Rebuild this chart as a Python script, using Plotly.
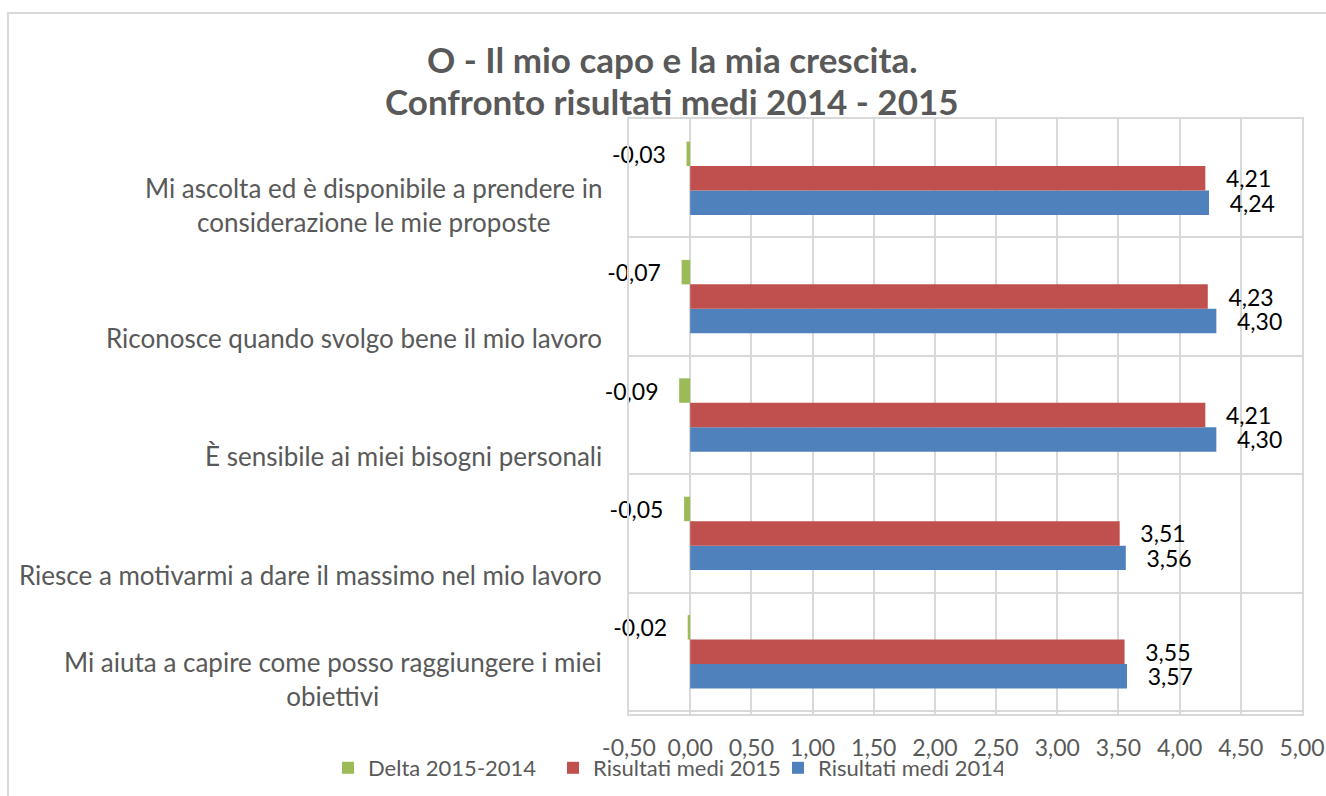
import plotly.graph_objects as go

# Survey items, listed top to bottom as they appear on the chart
categories = [
    "Mi ascolta ed è disponibile a prendere in<br>considerazione le mie proposte",
    "Riconosce quando svolgo bene il mio lavoro",
    "È sensibile ai miei bisogni personali",
    "Riesce a motivarmi a dare il massimo nel mio lavoro",
    "Mi aiuta a capire come posso raggiungere i miei<br>obiettivi",
]
risultati_2014 = [4.24, 4.30, 4.30, 3.56, 3.57]
risultati_2015 = [4.21, 4.23, 4.21, 3.51, 3.55]
delta_2015_2014 = [-0.03, -0.07, -0.09, -0.05, -0.02]

x_ticks = [-0.5, 0, 0.5, 1, 1.5, 2, 2.5, 3, 3.5, 4, 4.5, 5]
x_tick_labels = ["-0,50", "0,00", "0,50", "1,00", "1,50", "2,00",
                 "2,50", "3,00", "3,50", "4,00", "4,50", "5,00"]

W, H = 1326, 796
ML, MR, MT, MB = 629, 24, 119, 82
PW, PH = W - ML - MR, H - MT - MB


def px_x(x):
    return (x - ML) / PW


def px_y(y):
    return (H - MB - y) / PH


FONT = "Lato, Calibri, Open Sans, sans-serif"
GREY = "#595959"
GRID = "#d9d9d9"
NB = "\u00a0"

fig = go.Figure()

series = [
    ("Risultati medi 2014", risultati_2014, "#4F81BD", NB * 3 + "%{x:.2f}"),
    ("Risultati medi 2015", risultati_2015, "#C0504D", NB * 3 + "%{x:.2f}"),
    ("Delta 2015-2014", delta_2015_2014, "#9BBB59", "%{x:.2f}" + NB * 3),
]
for name, vals, color, tmpl in series:
    fig.add_trace(go.Bar(
        name=name,
        y=categories,
        x=vals,
        orientation="h",
        marker=dict(color=color, line=dict(width=0)),
        texttemplate=tmpl,
        textposition="outside",
        textfont=dict(family=FONT, size=23, color="#000000"),
        constraintext="none",
        cliponaxis=False,
        hoverinfo="x+name",
    ))

# Category labels sit near the lower edge of each category band;
# wrapped labels are centred line against line
annotations = []
n = len(categories)
for i, cat in enumerate(categories):
    idx = n - 1 - i
    wrapped = "<br>" in cat
    annotations.append(dict(
        text=cat,
        xref="paper", x=0, xanchor="right", xshift=-25,
        yref="y", y=idx - 0.5, yanchor="middle",
        yshift=32 if wrapped else 18,
        showarrow=False, align="center",
        font=dict(family=FONT, size=26, color=GREY),
    ))

# Two-line chart title
for txt, ypx in [("O - Il mio capo e la mia crescita.", 59),
                 ("Confronto risultati medi 2014 - 2015", 101)]:
    annotations.append(dict(
        text="<b>" + txt + "</b>",
        xref="paper", x=px_x(672), xanchor="center",
        yref="paper", y=px_y(ypx), yanchor="middle",
        showarrow=False,
        font=dict(family=FONT, size=35, color=GREY),
    ))

fig.update_layout(
    width=W, height=H,
    margin=dict(l=ML, r=MR, t=MT, b=MB, pad=0, autoexpand=False),
    paper_bgcolor="white", plot_bgcolor="white",
    separators=",.",
    barmode="group", bargap=0.38, bargroupgap=0,
    showlegend=True,
    legend=dict(
        orientation="h", traceorder="reversed",
        x=px_x(328), xanchor="left",
        y=px_y(768), yanchor="middle",
        font=dict(family=FONT, size=22, color=GREY),
        itemwidth=30, entrywidth=180, entrywidthmode="pixels",
        bgcolor="rgba(0,0,0,0)",
    ),
    xaxis=dict(
        range=[-0.5, 5], tickvals=x_ticks, ticktext=x_tick_labels,
        showgrid=True, gridcolor=GRID, gridwidth=1.5,
        zeroline=False, automargin=False,
        showline=True, linecolor=GRID, linewidth=1.5, mirror=True,
        ticks="", ticklabelstandoff=13,
        tickfont=dict(family=FONT, size=23, color=GREY),
        fixedrange=True,
    ),
    yaxis=dict(
        type="category", categoryorder="array", categoryarray=categories[::-1],
        tickson="boundaries", showticklabels=False, ticks="",
        showgrid=True, gridcolor=GRID, gridwidth=1.5, automargin=False,
        showline=True, linecolor=GRID, linewidth=1.5, mirror=True,
        fixedrange=True,
    ),
    annotations=annotations,
    shapes=[dict(
        type="rect", xref="paper", yref="paper",
        x0=px_x(8), x1=px_x(1345), y0=px_y(13), y1=px_y(815),
        line=dict(color=GRID, width=2), fillcolor="rgba(0,0,0,0)",
        layer="below",
    )],
)

fig.write_html("out.html")
